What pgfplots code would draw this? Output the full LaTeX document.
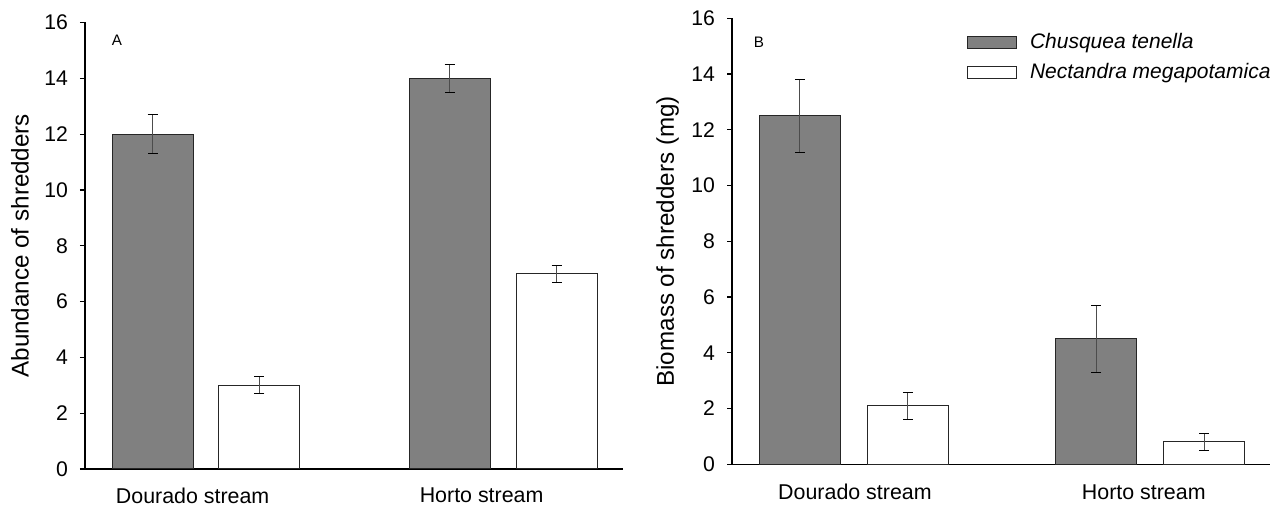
\documentclass[border=0pt]{standalone}
\usepackage{pgfplots}
\pgfplotsset{compat=1.18}
\usepackage{fontspec}
\setmainfont{Liberation Sans}
\definecolor{barg}{HTML}{808080}
\pgfplotsset{
  panel/.style={
    scale only axis, width=269pt,
    axis lines=left, axis line style={-, line width=0.6pt, black},
    ymin=0, ymax=16, ytick={0,2,...,16},
    tick align=outside, ytick pos=left, major tick length=2.5pt,
    major x tick style={draw=none},
    y tick style={line width=0.6pt, black},
    /pgf/number format/assume math mode=true,
    yticklabel style={font=\fontsize{10.6}{12}\selectfont, xshift=-2.5pt},
    xticklabel style={font=\fontsize{10.7}{12}\selectfont},
    every axis y label/.style={rotate=90, anchor=center, font=\fontsize{12.1}{14}\selectfont},
    clip=false,
  },
  cbar/.style={ybar, bar width=40.5pt, bar shift=0pt, draw=black!85, line width=0.5pt,
    legend image code/.code={\draw[##1] (0pt,-3pt) rectangle (24.5pt,3pt); \path (29pt,0pt);},
    error bars/.cd, y dir=both, y explicit,
    error bar style={line width=0.5pt, black!70},
    error mark options={rotate=90, mark size=2.5pt, line width=0.5pt, black},
    /pgfplots/.cd},
}
\begin{document}
\begin{tikzpicture}[x=1pt,y=1pt]
\path[use as bounding box] (0,0) rectangle (640.5,254);
% Panel A
\begin{axis}[panel, at={(42.5pt,19.5pt)}, anchor=south west, height=223.25pt,
  xmin=-0.4074, xmax=1.404,
  xtick={-0.045,0.928}, xticklabels={Dourado stream, Horto stream},
  xticklabel style={yshift=-3.5pt},
  ylabel={Abundance of shredders},
  ylabel style={at={(axis description cs:-0.1208,0.5)}},
]
\addplot[fill=barg, cbar] table[x=x, y=y, y error=e] {
x y e
-0.1801 12 0.7
0.8199 14 0.5
};
\addplot[fill=white, cbar] table[x=x, y=y, y error=e] {
x y e
0.1801 3 0.3
1.1801 7 0.3
};
\node[font=\fontsize{7.6}{9}\selectfont] at (axis cs:-0.2997,15.37) {A};
\end{axis}
% Panel B
\begin{axis}[panel, at={(366pt,21.85pt)}, anchor=south west, height=223pt,
  xmin=-0.411, xmax=1.405,
  xtick={0.004,0.979}, xticklabels={Dourado stream, Horto stream},
  xticklabel style={yshift=-4pt},
  ylabel={Biomass of shredders (mg)},
  ylabel style={at={(axis description cs:-0.1199,0.5)}},
  legend style={at={(axis description cs:0.425,0.985)}, anchor=north west, draw=none, fill=none,
    font=\fontsize{10.5}{12}\selectfont, row sep=2pt},
  legend cell align=left,
]
\addplot[fill=barg, cbar] table[x=x, y=y, y error=e] {
x y e
-0.1823 12.5 1.3
0.8177 4.5 1.2
};
\addlegendentry{\textit{Chusquea tenella}}
\addplot[fill=white, cbar] table[x=x, y=y, y error=e] {
x y e
0.1823 2.1 0.48
1.1823 0.8 0.3
};
\addlegendentry{\textit{Nectandra megapotamica}}
\node[font=\fontsize{7.6}{9}\selectfont] at (axis cs:-0.32,15.15) {B};
\end{axis}
\end{tikzpicture}
\end{document}
